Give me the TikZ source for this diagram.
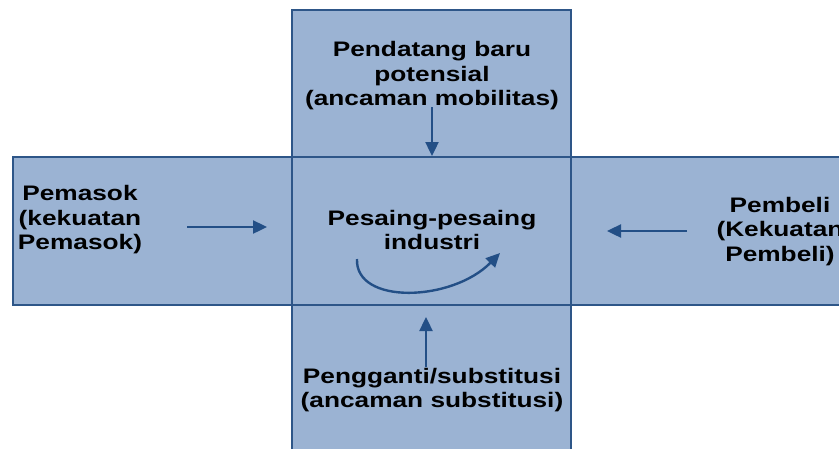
\documentclass[tikz,border=0pt]{standalone}
\usepackage{fontspec}
\setmainfont{Liberation Sans}[FakeStretch=1.25]
\usetikzlibrary{arrows.meta}
\definecolor{boxfill}{HTML}{9BB3D3}
\definecolor{boxline}{HTML}{2E5688}
\definecolor{arrowblue}{HTML}{234F86}
\tikzset{
  forcebox/.style={draw=boxline, line width=2pt, fill=boxfill, inner sep=0pt,
    minimum width=279pt},
  label/.style={inner sep=0pt, align=center,
    font=\bfseries\fontsize{21}{24.5}\selectfont},
  force/.style={draw=arrowblue, line width=2.4pt,
    -{Triangle[length=14pt,width=13pt]}},
}
\begin{document}
\begin{tikzpicture}[x=1pt,y=-1pt]
\useasboundingbox (0,0) rectangle (839,448);
\clip (0,0) rectangle (839,448);

% the five blocks of the cross
\node[forcebox, minimum height=147pt] (top) at (431.5,83.5) {};
\node[forcebox, minimum height=148pt] (left) at (152.5,231) {};
\node[forcebox, minimum height=148pt] (right) at (710.5,231) {};
\node[forcebox, minimum height=148pt] (bottom) at (431.5,379) {};
\node[forcebox, minimum height=148pt] (mid) at (431.5,231) {};

% labels
\node[label] (entrants) at (432,76) {Pendatang baru\\potensial\\(ancaman mobilitas)};
\node[label] (rivals) at (432,230) {Pesaing-pesaing\\industri};
\node[label] (suppliers) at (80,220) {Pemasok\\(kekuatan\\Pemasok)};
\node[label] (buyers) at (780,231.5) {Pembeli\\(Kekuatan\\Pembeli)};
\node[label] (substitutes) at (432,390) {Pengganti/substitusi\\(ancaman substitusi)};

% arrow ends
\coordinate (entT) at (432,107);
\coordinate (supT) at (187,227);
\coordinate (supH) at (267,227);
\coordinate (buyT) at (687,231);
\coordinate (buyH) at (607,231);
\coordinate (subT) at (426,367);
\coordinate (subH) at (426,317);
\coordinate (rivT) at (357,259);
\coordinate (rivH) at (500,253);

% forces acting on the industry
\draw[force] (entT) -- (entT |- mid.north);
\draw[force] (supT) -- (supH);
\draw[force] (buyT) -- (buyH);
\draw[force] (subT) -- (subH);
\draw[force] (rivT) .. controls (355,305) and (452,302) .. (rivH);
\end{tikzpicture}
\end{document}
